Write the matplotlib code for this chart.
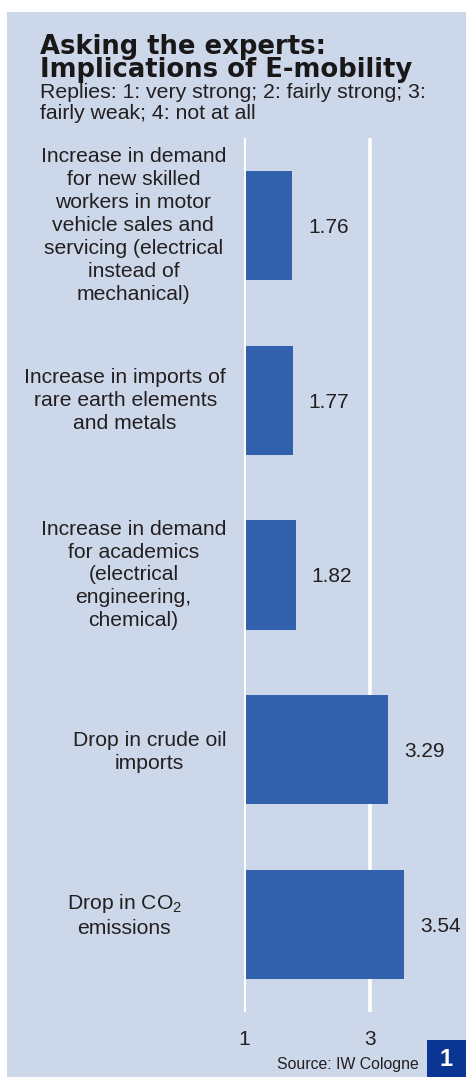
import numpy as np
import matplotlib
matplotlib.use('Agg')
import matplotlib.pyplot as plt
from matplotlib.patches import Rectangle

plt.rcParams['font.family'] = ['Liberation Sans', 'DejaVu Sans']
plt.rcParams['mathtext.fontset'] = 'custom'
plt.rcParams['mathtext.rm'] = 'Liberation Sans'

# ---------- data ----------
labels = [
    "Increase in demand\nfor new skilled\nworkers in motor\nvehicle sales and\nservicing (electrical\ninstead of\nmechanical)",
    "Increase in imports of\nrare earth elements\nand metals",
    "Increase in demand\nfor academics\n(electrical\nengineering,\nchemical)",
    "Drop in crude oil\nimports",
    "Drop in CO$_2$\nemissions",
]
values = [1.76, 1.77, 1.82, 3.29, 3.54]
tick_values = [1, 3]

BG = '#CCD8EA'
BAR = '#3160AC'
TXT = '#231F20'
W, H = 466, 1077

fig = plt.figure(figsize=(W / 100, H / 100), dpi=100)
fig.patch.set_facecolor('white')
fig.patches.append(Rectangle((7 / W, 0), 1 - 7 / W, 1 - 12 / H, transform=fig.transFigure,
                             facecolor=BG, edgecolor='none', zorder=-5))

# axes: value 1 at x=244px, top 138px, bottom 1012px
ax = fig.add_axes([244 / W, (H - 1012) / H, 220.5 / W, 874 / H])
ax.set_facecolor('none')
for s in ax.spines.values():
    s.set_visible(False)
ax.set_xlim(1, 4.5)
ax.set_ylim(len(values) - 0.5, -0.5)

y = np.arange(len(values))
ax.barh(y, [v - 1 for v in values], left=1, height=0.625, color=BAR, zorder=2)
ax.axvline(3, color='white', lw=2.6, zorder=1)
ax.axvline(1, color='white', lw=2.9, zorder=3)

for i, v in enumerate(values):
    ax.annotate(f"{v:.2f}", xy=(v, i), xytext=(16, -2), textcoords='offset pixels',
                ha='left', va='center', fontsize=15, color=TXT)

# category labels (right edge of text block, in px from value 1)
label_dx = [-18, -18, -18, -18, -62]
label_dy = [0, 0, 0, -2, 10]
for i, lab in enumerate(labels):
    ax.annotate(lab, xy=(1, i), xytext=(label_dx[i], label_dy[i]), textcoords='offset pixels',
                ha='right', va='center', multialignment='center', fontsize=15.2,
                color=TXT, linespacing=1.26, annotation_clip=False)

ax.set_yticks([])
ax.set_xticks(tick_values)
ax.set_xticklabels([str(t) for t in tick_values], fontsize=15, color=TXT)
ax.tick_params(axis='x', length=0, pad=13)

# title / subtitle
fig.text(40 / W, 1 - 77 / H, "Asking the experts:\nImplications of E-mobility", fontsize=18.6,
         fontweight='bold', family='DejaVu Sans', color='#1a1718', va='baseline', ha='left',
         linespacing=0.86)
fig.text(40 / W, 1 - 119 / H, "Replies: 1: very strong; 2: fairly strong; 3:\nfairly weak; 4: not at all",
         fontsize=15.3, color=TXT, va='baseline', ha='left', linespacing=1.1)

# source + page box
fig.text(419 / W, 1 - 1069 / H, "Source: IW Cologne", fontsize=11.4, color=TXT,
         va='baseline', ha='right')
fig.patches.append(Rectangle((427 / W, 0), 1 - 427 / W, 37 / H, transform=fig.transFigure,
                             facecolor='#0B3592', edgecolor='none', zorder=1))
fig.text(446 / W, 18 / H, "1", fontsize=17, fontweight='bold', color='white',
         ha='center', va='center')

fig.savefig('out.png', dpi=100)
